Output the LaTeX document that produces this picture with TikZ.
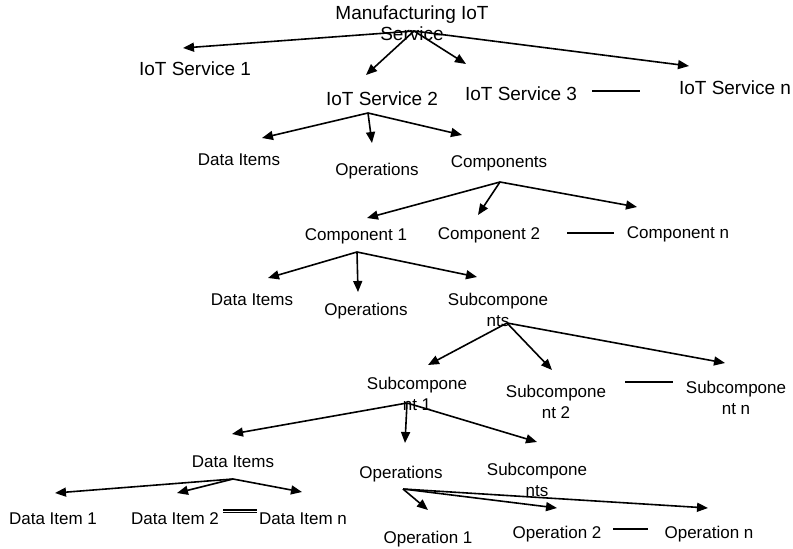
\documentclass[tikz,border=0pt]{standalone}
\usepackage{fontspec}
\setmainfont{Liberation Sans}
\usepackage{tikz}
\usetikzlibrary{arrows.meta}
\tikzstyle{svcnode} = [inner sep=0pt, anchor=base, align=center, font=\fontsize{19}{21}\selectfont]
\tikzstyle{partnode} = [inner sep=0pt, anchor=base, align=center, font=\fontsize{17}{21}\selectfont]
\tikzstyle{arrow} = [line width=1.6pt, -{Triangle[length=11pt,width=9pt]}]
\tikzstyle{gap} = [line width=2pt]

\begin{document}
\begin{tikzpicture}[x=1pt,y=-1pt]
\useasboundingbox (0,0) rectangle (793,549);
% service level (two-line nodes sit on their last line)
\node[svcnode] (man) at (412,40) {Manufacturing IoT\\Service};
\node[svcnode] (svc1) at (195,75) {IoT Service 1};
\node[svcnode] (svc2) at (382,105) {IoT Service 2};
\node[svcnode] (svc3) at (521,100) {IoT Service 3};
\node[svcnode] (svcn) at (735,94) {IoT Service n};
% inside IoT Service 2
\node[partnode] (di2) at (239,165) {Data Items};
\node[partnode] (op2) at (377,175) {Operations};
\node[partnode] (comps) at (499,167) {Components};
\node[partnode] (c1) at (356,240) {Component 1};
\node[partnode] (c2) at (489,239) {Component 2};
\node[partnode] (cn) at (678,238) {Component n};
% inside Component 1
\node[partnode] (di3) at (252,305) {Data Items};
\node[partnode] (op3) at (366,315) {Operations};
\node[partnode] (subs3) at (498,326) {Subcompone\\nts};
\node[partnode] (s1) at (417,410) {Subcompone\\nt 1};
\node[partnode] (s2) at (556,418) {Subcompone\\nt 2};
\node[partnode] (sn) at (736,414) {Subcompone\\nt n};
% inside Subcomponent 1
\node[partnode] (di4) at (233,467) {Data Items};
\node[partnode] (op4) at (401,478) {Operations};
\node[partnode] (subs4) at (537,496) {Subcompone\\nts};
\node[partnode] (d1) at (53,524) {Data Item 1};
\node[partnode] (d2) at (175,524) {Data Item 2};
\node[partnode] (dn) at (303,524) {Data Item n};
\node[partnode] (o1) at (428,543) {Operation 1};
\node[partnode] (o2) at (557,538) {Operation 2};
\node[partnode] (on) at (709,538) {Operation n};

% where the arrows leave and where they stop
\foreach \name/\x/\y in {man-o/414/31, svc1-t/183/48, svc2-t/366/75, svc3-t/466/64, svcn-t/689/66,
  svc2-o/368/113, di2-t/262/138, op2-t/372/143, comps-t/462/135,
  comps-o/500/182, c1-t/367/218, c2-t/478/215, cn-t/637/207,
  c1-o/357/252, di3-t/268/278, op3-t/358/292, subs3-t/477/277,
  subs3-o/507/323, s1-t/428/365, s2-t/552/370, sn-t/725/363,
  s1-o/407/403, di4-t/232/434, op4-t/405/443, subs4-t/537/442,
  di4-o/233/479, d1-t/55/493, d2-t/177/493, dn-t/302/492,
  op4-o/403/489, o1-t/428/510, o2-t/557/508, on-t/708/508,
  g1a/592/91, g1b/640/91, g2a/567/233, g2b/614/233, g3a/625/382, g3b/673/382,
  g4a/223/511, g4b/257/511, g5a/613/529, g5b/648/529}
  \coordinate (\name) at (\x,\y);

\foreach \t in {svc1,svc2,svc3,svcn} \draw[arrow] (man-o) -- (\t-t);
\foreach \t in {di2,op2,comps} \draw[arrow] (svc2-o) -- (\t-t);
\foreach \t in {c1,c2,cn} \draw[arrow] (comps-o) -- (\t-t);
\foreach \t in {di3,op3,subs3} \draw[arrow] (c1-o) -- (\t-t);
\foreach \t in {s1,s2,sn} \draw[arrow] (subs3-o) -- (\t-t);
\foreach \t in {di4,op4,subs4} \draw[arrow] (s1-o) -- (\t-t);
\foreach \t in {d1,d2,dn} \draw[arrow] (di4-o) -- (\t-t);
\foreach \t in {o1,o2,on} \draw[arrow] (op4-o) -- (\t-t);

% the "..." marks between siblings
\foreach \g in {g1,g2,g3,g5} \draw[gap] (\g a) -- (\g b);
\draw[line width=1.2pt, double distance=1pt] (g4a) -- (g4b);
\end{tikzpicture}
\end{document}
